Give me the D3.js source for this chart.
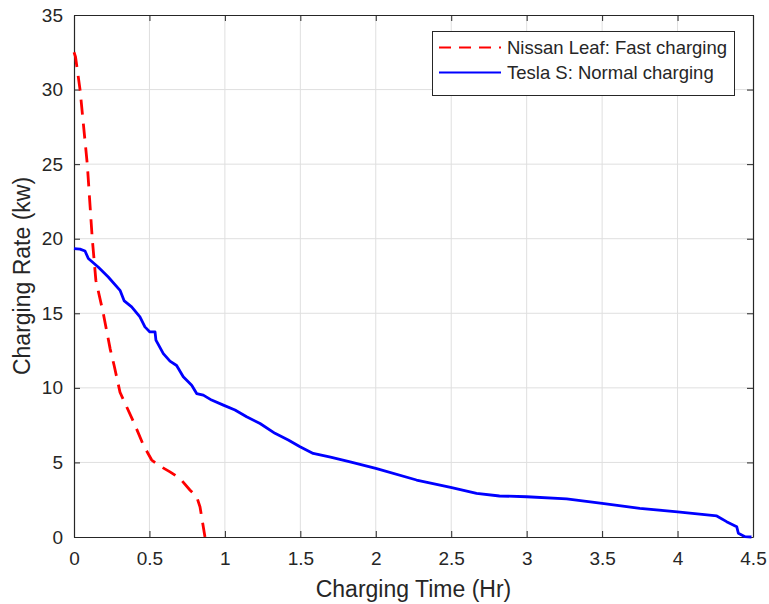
<html>
<head>
<meta charset="utf-8">
<script src="https://cdn.jsdelivr.net/npm/d3@7"></script>
<style>
  body { margin: 0; background: #fff; font-family: "Liberation Sans", Arial, Helvetica, sans-serif; }
  svg text { fill: #262626; }
</style>
</head>
<body>
<div id="chart"></div>
<script>
// Nissan Leaf fast charging (hours, kW)
var leafTime = [0, 0.01, 0.04, 0.088, 0.121, 0.145, 0.194, 0.24, 0.266, 0.305, 0.40, 0.46, 0.515, 0.559, 0.636, 0.702, 0.768, 0.813, 0.835, 0.868];
var leafRate = [32.5, 32.2, 30.0, 25.0, 20.0, 17.2, 15.0, 12.6, 11.5, 9.7, 7.6, 6.16, 5.16, 4.82, 4.37, 3.93, 3.15, 2.7, 2.03, 0];

// Tesla S normal charging (hours, kW)
var teslaTime = [0, 0.04, 0.073, 0.095, 0.16, 0.227, 0.305, 0.333, 0.382, 0.437, 0.47, 0.503, 0.537, 0.543, 0.592, 0.636, 0.68, 0.724, 0.78, 0.813, 0.857, 0.912, 0.99, 1.067, 1.144, 1.233, 1.332, 1.42, 1.498, 1.585, 1.70, 1.83, 2.0, 2.27, 2.496, 2.668, 2.82, 3.0, 3.265, 3.5, 3.75, 4.0, 4.26, 4.325, 4.392, 4.403, 4.447, 4.49];
var teslaRate = [19.34, 19.3, 19.18, 18.67, 18.1, 17.43, 16.54, 15.83, 15.43, 14.76, 14.09, 13.75, 13.75, 13.2, 12.3, 11.79, 11.5, 10.74, 10.18, 9.62, 9.51, 9.18, 8.84, 8.51, 8.06, 7.61, 6.95, 6.5, 6.05, 5.6, 5.35, 5.04, 4.6, 3.82, 3.33, 2.93, 2.75, 2.7, 2.55, 2.26, 1.92, 1.69, 1.41, 1.03, 0.69, 0.25, 0.02, 0];

var xTicks = [0, 0.5, 1, 1.5, 2, 2.5, 3, 3.5, 4, 4.5];
var yTicks = [0, 5, 10, 15, 20, 25, 30, 35];
var legendLabels = ["Nissan Leaf: Fast charging", "Tesla S: Normal charging"];

var width = 769, height = 604;
var mLeft = 74, mRight = 753, mTop = 15, mBottom = 537;

var svg = d3.select("#chart").append("svg")
    .attr("width", width)
    .attr("height", height);

var x = d3.scaleLinear().domain([0, 4.5]).range([mLeft, mRight]);
var y = d3.scaleLinear().domain([0, 35]).range([mBottom, mTop]);

// grid
svg.append("g").selectAll("line")
    .data(xTicks.slice(1, -1))
    .enter().append("line")
    .attr("x1", d => x(d)).attr("x2", d => x(d))
    .attr("y1", mTop).attr("y2", mBottom)
    .attr("stroke", "#dfdfdf").attr("stroke-width", 1);
svg.append("g").selectAll("line")
    .data(yTicks.slice(1, -1))
    .enter().append("line")
    .attr("x1", mLeft).attr("x2", mRight)
    .attr("y1", d => y(d)).attr("y2", d => y(d))
    .attr("stroke", "#dfdfdf").attr("stroke-width", 1);

// axes (ticks inward, box on all sides)
function styleAxis(g) {
  g.select(".domain").attr("stroke", "#262626").attr("stroke-width", 1.2);
  g.selectAll(".tick line").attr("stroke", "#262626").attr("stroke-width", 1);
  g.selectAll(".tick text").style("font-size", "19px").style("font-family", "Liberation Sans, Arial, sans-serif").attr("fill", "#262626");
}
svg.append("g").attr("transform", "translate(0," + mBottom + ")")
    .call(d3.axisBottom(x).tickValues(xTicks).tickSize(-6).tickPadding(15).tickFormat(d3.format("")).tickSizeOuter(0))
    .call(styleAxis);
svg.append("g").attr("transform", "translate(" + mLeft + ",0)")
    .call(d3.axisLeft(y).tickValues(yTicks).tickSize(-6).tickPadding(11).tickSizeOuter(0))
    .call(styleAxis);
svg.append("g").attr("transform", "translate(0," + mTop + ")")
    .call(d3.axisTop(x).tickValues(xTicks).tickSize(-6).tickFormat("").tickSizeOuter(0))
    .call(styleAxis);
svg.append("g").attr("transform", "translate(" + mRight + ",0)")
    .call(d3.axisRight(y).tickValues(yTicks).tickSize(-6).tickFormat("").tickSizeOuter(0))
    .call(styleAxis);

// lines
var line = d3.line().x(d => x(d[0])).y(d => y(d[1]));
svg.append("path")
    .datum(d3.zip(teslaTime, teslaRate))
    .attr("d", line)
    .attr("fill", "none").attr("stroke", "#0000ff").attr("stroke-width", 2.8)
    .attr("stroke-linejoin", "round");
svg.append("path")
    .datum(d3.zip(leafTime, leafRate))
    .attr("d", line)
    .attr("fill", "none").attr("stroke", "#ff0000").attr("stroke-width", 2.8)
    .attr("stroke-dasharray", "15,9");

// axis labels
svg.append("text")
    .attr("x", (mLeft + mRight) / 2).attr("y", 597)
    .attr("text-anchor", "middle")
    .style("font-size", "23px")
    .text("Charging Time (Hr)");
svg.append("text")
    .attr("transform", "translate(30," + ((mTop + mBottom) / 2) + ") rotate(-90)")
    .attr("text-anchor", "middle")
    .style("font-size", "23px")
    .text("Charging Rate (kw)");

// legend
var lg = svg.append("g");
lg.append("rect")
    .attr("x", 432.5).attr("y", 31.5).attr("width", 302).attr("height", 64)
    .attr("fill", "#fff").attr("stroke", "#262626").attr("stroke-width", 1);
var legendColors = ["#ff0000", "#0000ff"];
var legendDash = ["12,8", null];
legendLabels.forEach(function(t, i) {
  var cy = 47.5 + i * 25;
  lg.append("line")
      .attr("x1", 439).attr("x2", 501).attr("y1", cy).attr("y2", cy)
      .attr("stroke", legendColors[i]).attr("stroke-width", 2)
      .attr("stroke-dasharray", legendDash[i]);
  lg.append("text")
      .attr("x", 507).attr("y", cy + 6.5)
      .style("font-size", "18.5px")
      .text(t);
});
</script>
</body>
</html>
